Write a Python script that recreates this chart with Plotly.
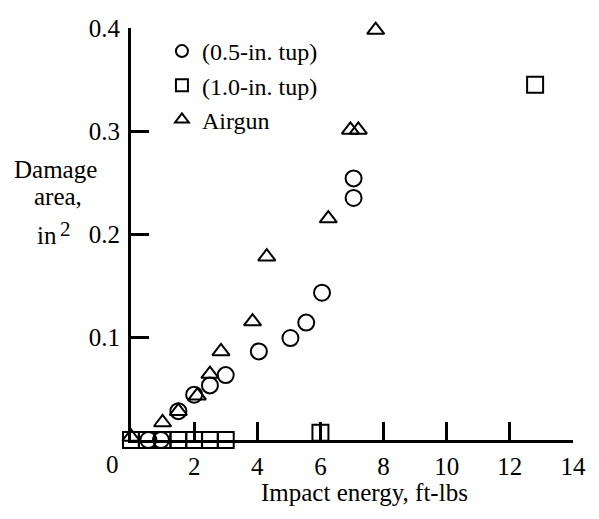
import plotly.graph_objects as go

# 0.5-in. tup (circles)
tup05_x = [0.55, 0.95, 1.5, 2.0, 2.5, 3.0, 4.05, 5.05, 5.55, 6.05, 7.05, 7.05]
tup05_y = [0.0, 0.0, 0.028, 0.044, 0.053, 0.063, 0.086, 0.099, 0.114, 0.143, 0.235, 0.254]

# 1.0-in. tup (squares)
tup10_x = [0.0, 0.5, 1.0, 1.5, 2.0, 2.5, 3.0, 6.0, 12.8]
tup10_y = [0.0, 0.0, 0.0, 0.0, 0.0, 0.0, 0.0, 0.007, 0.345]

# Airgun (triangles)
air_x = [0.0, 1.0, 1.5, 2.1, 2.5, 2.85, 3.85, 4.3, 6.25, 6.95, 7.2, 7.75]
air_y = [0.003, 0.017, 0.028, 0.043, 0.064, 0.086, 0.115, 0.178, 0.215, 0.301, 0.301, 0.398]

x_ticks = [2, 4, 6, 8, 10, 12, 14]
y_ticks = [0.1, 0.2, 0.3, 0.4]
y_ticklabels = ["0.1", "0.2", "0.3", "0.4"]

FONT = "Liberation Serif"

fig = go.Figure()
fig.add_trace(go.Scatter(
    x=tup05_x, y=tup05_y, mode="markers", name="(0.5-in. tup)",
    marker=dict(symbol="circle-open", size=16, color="black", line=dict(width=2, color="black")),
    cliponaxis=False))
fig.add_trace(go.Scatter(
    x=tup10_x, y=tup10_y, mode="markers", name="(1.0-in. tup)",
    marker=dict(symbol="square-open", size=16, color="black", line=dict(width=2, color="black")),
    cliponaxis=False))
fig.add_trace(go.Scatter(
    x=air_x, y=air_y, mode="markers", name="Airgun",
    marker=dict(symbol="triangle-up-open", size=15, color="black", line=dict(width=2, color="black")),
    cliponaxis=False))

fig.update_layout(
    width=599, height=519,
    margin=dict(l=130.5, r=25.5, t=28, b=78.5),
    paper_bgcolor="white", plot_bgcolor="white",
    font=dict(family=FONT, size=25, color="black"),
    showlegend=True,
    legend=dict(x=0.07, y=0.9976, xanchor="left", yanchor="top",
                bgcolor="rgba(0,0,0,0)", font=dict(family=FONT, size=24, color="black"),
                itemsizing="constant", tracegroupgap=0),
    xaxis=dict(range=[0, 14], tickmode="array", tickvals=x_ticks,
               ticks="inside", ticklen=18, tickwidth=2.5, tickcolor="black",
               showline=True, linecolor="black", linewidth=3,
               showgrid=False, zeroline=False, ticklabelstandoff=2,
               tickfont=dict(family=FONT, size=25, color="black")),
    yaxis=dict(range=[0, 0.4], tickmode="array", tickvals=y_ticks, ticktext=y_ticklabels,
               ticks="inside", ticklen=18, tickwidth=2.5, tickcolor="black",
               showline=True, linecolor="black", linewidth=3,
               showgrid=False, zeroline=False, ticklabelstandoff=3,
               tickfont=dict(family=FONT, size=25, color="black")),
    annotations=[
        dict(text="0", x=-0.0418, y=-0.0594, xref="paper", yref="paper", showarrow=False,
             xanchor="center", yanchor="middle", font=dict(family=FONT, size=25)),
        dict(text="Impact energy, ft-lbs", x=0.529, y=-0.127, xref="paper", yref="paper",
             showarrow=False, xanchor="center", yanchor="middle", font=dict(family=FONT, size=25)),
        dict(text="Damage", x=-0.1704, y=0.6558, xref="paper", yref="paper",
             showarrow=False, xanchor="center", yanchor="middle", font=dict(family=FONT, size=25)),
        dict(text="area,", x=-0.166, y=0.590, xref="paper", yref="paper",
             showarrow=False, xanchor="center", yanchor="middle", font=dict(family=FONT, size=25)),
        dict(text="in", x=-0.189, y=0.497, xref="paper", yref="paper",
             showarrow=False, xanchor="center", yanchor="middle", font=dict(family=FONT, size=25)),
        dict(text="2", x=-0.148, y=0.512, xref="paper", yref="paper",
             showarrow=False, xanchor="center", yanchor="middle", font=dict(family=FONT, size=21)),
    ],
)

fig.write_html("out.html")
